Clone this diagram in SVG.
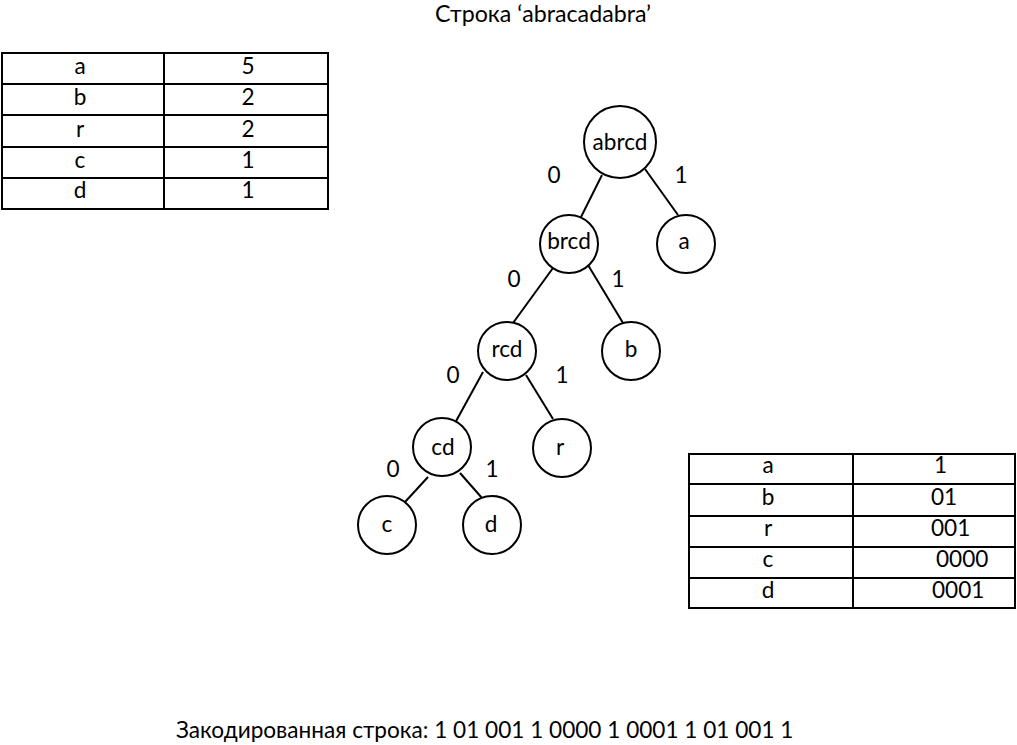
<svg xmlns="http://www.w3.org/2000/svg" width="1017" height="745" viewBox="0 0 1017 745">
<style>
text{font-family:"Lato","Open Sans","Liberation Sans",sans-serif;font-size:22.6px;fill:#000}
.c{text-anchor:middle}
.n circle{fill:#fff;stroke:#000;stroke-width:2}
.tb{fill:none;stroke:#000;stroke-width:2}
#edges line{stroke:#000;stroke-width:2}
</style>
<rect width="1017" height="745" fill="#fff"/>
<text class="c" x="543" y="22" style="font-size:23.2px">Строка ‘abracadabra’</text>
<g id="freq-table">
<rect class="tb" x="2" y="53" width="326" height="156"/>
<line class="tb" x1="164" y1="53" x2="164" y2="209"/>
<line class="tb" x1="2" y1="84" x2="328" y2="84"/>
<line class="tb" x1="2" y1="115" x2="328" y2="115"/>
<line class="tb" x1="2" y1="147" x2="328" y2="147"/>
<line class="tb" x1="2" y1="178" x2="328" y2="178"/>
<text class="c" x="80" y="74">a</text><text class="c" x="248" y="74">5</text>
<text class="c" x="80" y="105">b</text><text class="c" x="248" y="105">2</text>
<text class="c" x="80" y="137">r</text><text class="c" x="248" y="137">2</text>
<text class="c" x="80" y="168">c</text><text class="c" x="248" y="168">1</text>
<text class="c" x="80" y="198">d</text><text class="c" x="248" y="198">1</text>
</g>
<g id="code-table">
<rect class="tb" x="689" y="454" width="326" height="154"/>
<line class="tb" x1="853" y1="454" x2="853" y2="608"/>
<line class="tb" x1="689" y1="484" x2="1015" y2="484"/>
<line class="tb" x1="689" y1="516" x2="1015" y2="516"/>
<line class="tb" x1="689" y1="547" x2="1015" y2="547"/>
<line class="tb" x1="689" y1="578" x2="1015" y2="578"/>
<text class="c" x="768" y="473">a</text><text x="934" y="473">1</text>
<text class="c" x="768" y="505">b</text><text x="931" y="505">01</text>
<text class="c" x="768" y="536">r</text><text x="931" y="536">001</text>
<text class="c" x="768" y="567">c</text><text x="936" y="567">0000</text>
<text class="c" x="768" y="598">d</text><text x="932" y="598">0001</text>
</g>
<g id="edges">
<line x1="602" y1="175" x2="581" y2="217"/>
<line x1="645" y1="169" x2="678" y2="215"/>
<line x1="553" y1="268" x2="513" y2="323"/>
<line x1="588" y1="265" x2="623" y2="323"/>
<line x1="483" y1="372" x2="455" y2="423"/>
<line x1="526" y1="375" x2="553" y2="419"/>
<line x1="428" y1="477" x2="405" y2="502"/>
<line x1="460" y1="473" x2="482" y2="498"/>
<text class="c" x="554" y="183">0</text><text class="c" x="681" y="183">1</text>
<text class="c" x="514" y="287">0</text><text class="c" x="618" y="287">1</text>
<text class="c" x="453" y="383">0</text><text class="c" x="562" y="383">1</text>
<text class="c" x="393" y="477">0</text><text class="c" x="492" y="477">1</text>
</g>
<g id="n-abrcd" class="n"><circle cx="620" cy="142" r="36"/><text class="c" x="620" y="150">abrcd</text></g>
<g id="n-brcd" class="n"><circle cx="569" cy="244" r="29"/><text class="c" x="569" y="249">brcd</text></g>
<g id="n-a" class="n"><circle cx="686" cy="244" r="29"/><text class="c" x="684" y="249">a</text></g>
<g id="n-rcd" class="n"><circle cx="507" cy="351" r="29"/><text class="c" x="507" y="357">rcd</text></g>
<g id="n-b" class="n"><circle cx="631" cy="351" r="29"/><text class="c" x="631" y="357">b</text></g>
<g id="n-cd" class="n"><circle cx="442" cy="447" r="29"/><text class="c" x="443" y="455">cd</text></g>
<g id="n-r" class="n"><circle cx="562" cy="448" r="29"/><text class="c" x="560" y="455">r</text></g>
<g id="n-c" class="n"><circle cx="387" cy="525" r="29"/><text class="c" x="387" y="532">c</text></g>
<g id="n-d" class="n"><circle cx="492" cy="525" r="29"/><text class="c" x="491" y="532">d</text></g>
<text x="176" y="738">Закодированная строка: 1 01 001 1 0000 1 0001 1 01 001 1</text>
</svg>
